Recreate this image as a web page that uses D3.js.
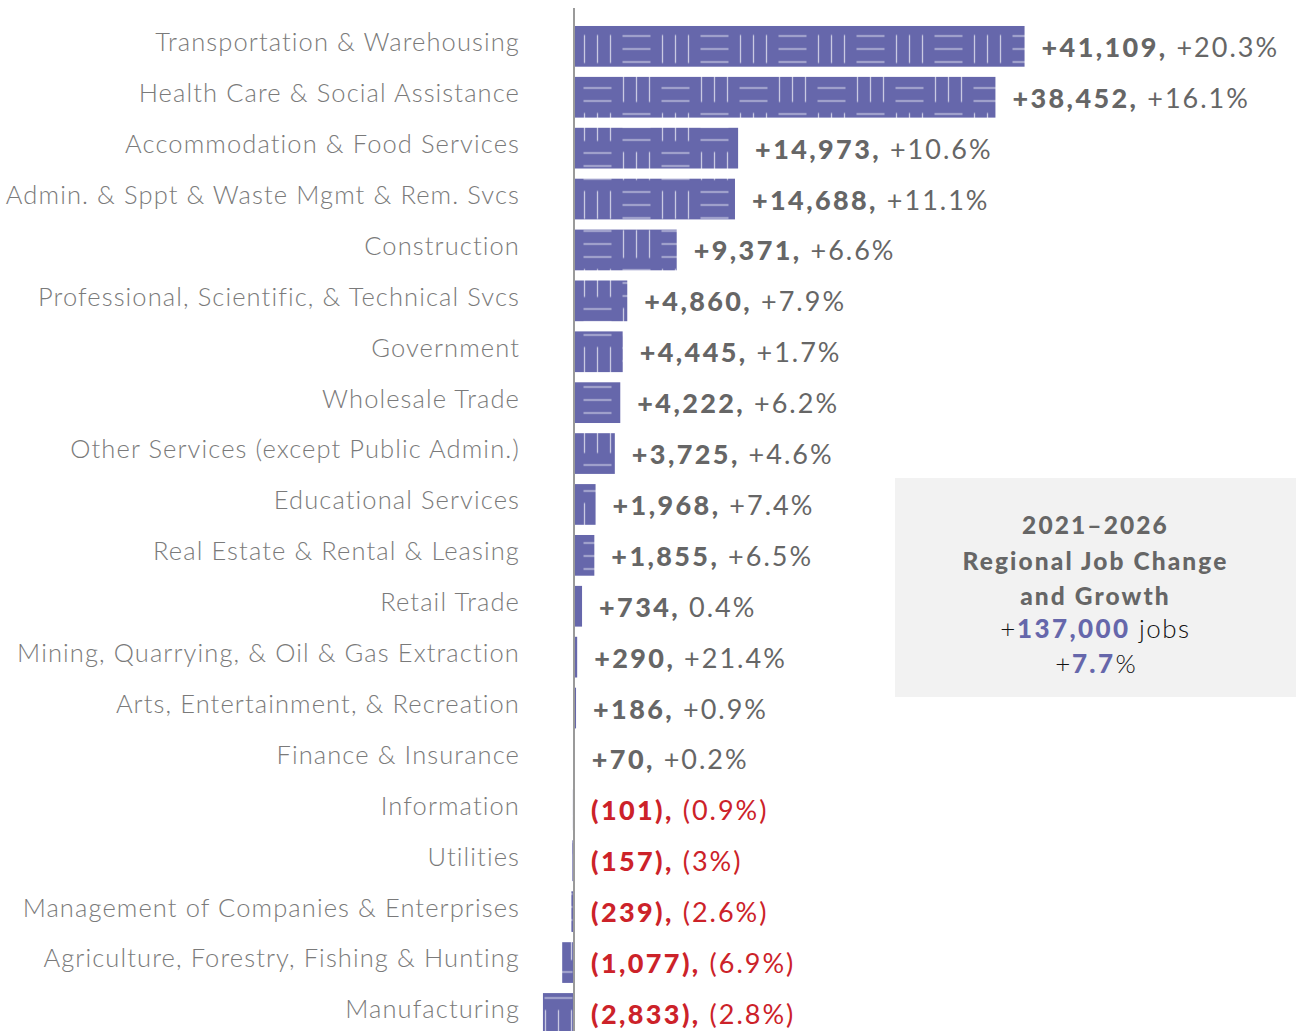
<!DOCTYPE html>
<html>
<head>
<meta charset="utf-8">
<script src="https://cdn.jsdelivr.net/npm/d3@7/dist/d3.min.js"></script>
<style>
  html, body { margin: 0; padding: 0; background: #ffffff; }
  svg { display: block; }
</style>
</head>
<body>
<svg id="chart" width="1315" height="1031"></svg>
<script>
// ---- data ----
const categories = [
  "Transportation & Warehousing",
  "Health Care & Social Assistance",
  "Accommodation & Food Services",
  "Admin. & Sppt & Waste Mgmt & Rem. Svcs",
  "Construction",
  "Professional, Scientific, & Technical Svcs",
  "Government",
  "Wholesale Trade",
  "Other Services (except Public Admin.)",
  "Educational Services",
  "Real Estate & Rental & Leasing",
  "Retail Trade",
  "Mining, Quarrying, & Oil & Gas Extraction",
  "Arts, Entertainment, & Recreation",
  "Finance & Insurance",
  "Information",
  "Utilities",
  "Management of Companies & Enterprises",
  "Agriculture, Forestry, Fishing & Hunting",
  "Manufacturing"
];
const jobChange = [41109, 38452, 14973, 14688, 9371, 4860, 4445, 4222, 3725, 1968,
                   1855, 734, 290, 186, 70, -101, -157, -239, -1077, -2833];
const changeLabels = ["+41,109,", "+38,452,", "+14,973,", "+14,688,", "+9,371,", "+4,860,",
                      "+4,445,", "+4,222,", "+3,725,", "+1,968,", "+1,855,", "+734,", "+290,",
                      "+186,", "+70,", "(101),", "(157),", "(239),", "(1,077),", "(2,833),"];
const growthLabels = ["+20.3%", "+16.1%", "+10.6%", "+11.1%", "+6.6%", "+7.9%", "+1.7%",
                      "+6.2%", "+4.6%", "+7.4%", "+6.5%", "0.4%", "+21.4%", "+0.9%", "+0.2%",
                      "(0.9%)", "(3%)", "(2.6%)", "(6.9%)", "(2.8%)"];
const summaryTitle = ["2021\u20132026", "Regional Job Change", "and Growth"];
const summaryJobs = "137,000";
const summaryGrowth = "7.7";

// ---- layout ----
const W = 1315, H = 1031;
const zeroX = 574, k = 0.01096;
const svg = d3.select("#chart");

const x = d3.scaleLinear().domain([-3000, 42000]).range([zeroX - 3000 * k, zeroX + 42000 * k]);
const y = d3.scaleBand().domain(categories).range([20.9, 1038.9]).paddingInner(0.2).paddingOuter(0.1);

const barColor = "#6667ab";
const lineColor = "#c9c9e2";
const gray = "#666666";
const red = "#cc2229";
const font = "Lato, 'Open Sans', sans-serif";

// basket-weave pattern
const defs = svg.append("defs");
const T = 39;
const pat = defs.append("pattern")
  .attr("id", "weave")
  .attr("patternUnits", "userSpaceOnUse")
  .attr("x", 578).attr("y", 29.5)
  .attr("width", T * 2).attr("height", T * 2);
pat.append("rect").attr("width", T * 2).attr("height", T * 2).attr("fill", barColor);
const tiles = [[0, 0, "v"], [1, 0, "h"], [0, 1, "h"], [1, 1, "v"]];
tiles.forEach(([tx, ty, o]) => {
  [6.5, 19.5, 32.5].forEach(off => {
    if (o === "v") {
      pat.append("line")
        .attr("x1", tx * T + off).attr("x2", tx * T + off)
        .attr("y1", ty * T + 5.5).attr("y2", ty * T + T - 5.5)
        .attr("stroke", lineColor).attr("stroke-width", 1.3);
    } else {
      pat.append("line")
        .attr("y1", ty * T + off).attr("y2", ty * T + off)
        .attr("x1", tx * T + 5.5).attr("x2", tx * T + T - 5.5)
        .attr("stroke", lineColor).attr("stroke-width", 1.3);
    }
  });
});

// bars
svg.append("g").selectAll("rect")
  .data(categories)
  .join("rect")
  .attr("x", (d, i) => Math.min(x(jobChange[i]), x(0)))
  .attr("y", d => y(d))
  .attr("width", (d, i) => Math.abs(x(jobChange[i]) - x(0)))
  .attr("height", y.bandwidth())
  .attr("fill", "url(#weave)");

// axis line
const yAxis = d3.axisLeft(y).tickSize(0).tickFormat("");
const axisG = svg.append("g").attr("transform", `translate(${x(0)},0)`).call(yAxis);
axisG.select(".domain").attr("stroke", "#9a9a9a").attr("stroke-width", 2)
  .attr("d", `M0,8V${H}`);

// category labels
svg.append("g").selectAll("text")
  .data(categories)
  .join("text")
  .attr("x", 520)
  .attr("y", d => y(d) + y.bandwidth() / 2 - 4)
  .attr("dy", "0.35em")
  .attr("text-anchor", "end")
  .attr("font-family", font)
  .attr("font-weight", 300)
  .attr("font-size", 25.5)
  .attr("letter-spacing", 1.1)
  .attr("fill", "#7a7a7a")
  .text(d => d);

// value labels
const vl = svg.append("g").selectAll("text")
  .data(categories)
  .join("text")
  .attr("x", (d, i) => Math.max(x(jobChange[i]), x(0)) + 17)
  .attr("y", d => y(d) + y.bandwidth() / 2 + 1)
  .attr("dy", "0.35em")
  .attr("font-family", font)
  .attr("font-size", 27)
  .attr("fill", (d, i) => jobChange[i] < 0 ? red : gray);
vl.append("tspan").attr("font-weight", 900).attr("letter-spacing", 2.4)
  .text((d, i) => changeLabels[i]);
vl.append("tspan").attr("font-weight", 400).attr("letter-spacing", 2)
  .text((d, i) => " " + growthLabels[i]);

// summary box
const bx = 895, by = 478, bw = 401, bh = 219;
svg.append("rect").attr("x", bx).attr("y", by).attr("width", bw).attr("height", bh).attr("fill", "#f2f2f2");
const cx = bx + bw / 2;
const lineYs = [525, 561, 596];
summaryTitle.forEach((t, i) => {
  svg.append("text").attr("x", cx).attr("y", lineYs[i]).attr("dy", "0.35em")
    .attr("text-anchor", "middle")
    .attr("font-family", font).attr("font-weight", 900)
    .attr("font-size", 24.5).attr("letter-spacing", 2.1).attr("fill", gray)
    .text(t);
});
const jl = svg.append("text").attr("x", cx).attr("y", 629).attr("dy", "0.35em")
  .attr("text-anchor", "middle").attr("font-family", font).attr("font-size", 26);
jl.append("tspan").attr("fill", "#111").attr("font-weight", 300).attr("letter-spacing", 1.5).text("+");
jl.append("tspan").attr("fill", barColor).attr("font-weight", 900).attr("letter-spacing", 2.4).text(summaryJobs);
jl.append("tspan").attr("fill", "#111").attr("font-weight", 300).attr("letter-spacing", 1.5).text(" jobs");
const gl = svg.append("text").attr("x", cx).attr("y", 664).attr("dy", "0.35em")
  .attr("text-anchor", "middle").attr("font-family", font).attr("font-size", 26);
gl.append("tspan").attr("fill", "#111").attr("font-weight", 300).attr("letter-spacing", 1.5).text("+");
gl.append("tspan").attr("fill", barColor).attr("font-weight", 900).attr("letter-spacing", 2.4).text(summaryGrowth);
gl.append("tspan").attr("fill", "#111").attr("font-weight", 300).text("%");
</script>
</body>
</html>
